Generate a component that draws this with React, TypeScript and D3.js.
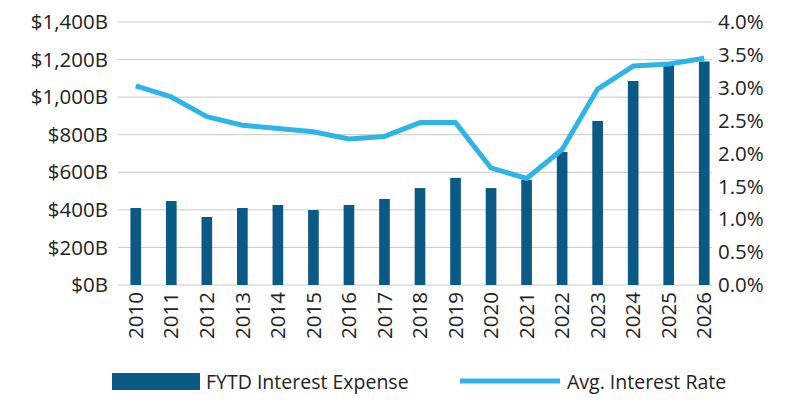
import { scaleBand, scaleLinear, line } from "d3";

const years = ["2010","2011","2012","2013","2014","2015","2016","2017","2018","2019","2020","2021","2022","2023","2024","2025","2026"];
const expense = [410, 447, 362, 410, 426, 399, 426, 458, 516, 570, 516, 559, 708, 873, 1086, 1187, 1190];
const rate = [3.03, 2.86, 2.56, 2.43, 2.38, 2.33, 2.22, 2.26, 2.47, 2.47, 1.78, 1.62, 2.06, 2.98, 3.33, 3.36, 3.45];
const leftTicks = [0, 200, 400, 600, 800, 1000, 1200, 1400];
const rightTicks = [0, 0.5, 1, 1.5, 2, 2.5, 3, 3.5, 4];

const BAR = "#0b5a85";
const LINE = "#2fb4e6";
const FONT = "'Open Sans', sans-serif";

export default function App() {
  const width = 800, height = 402;
  const x = scaleBand().domain(years).range([118, 722]).paddingInner(0.7).paddingOuter(0.35);
  const yL = scaleLinear().domain([0, 1400]).range([285, 22]);
  const yR = scaleLinear().domain([0, 4]).range([285, 22]);
  const path = line<number>()
    .x((_, i) => (x(years[i]) ?? 0) + x.bandwidth() / 2)
    .y(d => yR(d))(rate);

  return (
    <svg width={width} height={height} style={{ position: "absolute", left: 0, top: 0, fontFamily: FONT }}>
      <rect width={width} height={height} fill="white" />
      {leftTicks.map(t => (
        <g key={t}>
          <line x1={118} x2={712} y1={yL(t)} y2={yL(t)} stroke="#c8c8c8" strokeWidth={1} />
          <text x={108} y={yL(t)} dy="0.35em" textAnchor="end" fontSize={20.5} fill="#222">
            ${t.toLocaleString("en-US")}B
          </text>
        </g>
      ))}
      {rightTicks.map(t => (
        <text key={t} x={718} y={yR(t)} dy="0.35em" fontSize={20.5} fill="#222">
          {t.toFixed(1)}%
        </text>
      ))}
      {expense.map((v, i) => (
        <rect key={years[i]} x={x(years[i])} y={yL(v)} width={x.bandwidth()} height={yL(0) - yL(v)} fill={BAR} />
      ))}
      <path d={path ?? ""} fill="none" stroke={LINE} strokeWidth={5} strokeLinejoin="round" />
      {years.map(yr => (
        <text key={yr} transform={`translate(${(x(yr) ?? 0) + x.bandwidth() / 2},292) rotate(-90)`}
          dy="0.35em" textAnchor="end" fontSize={20.5} fill="#222">{yr}</text>
      ))}
      <rect x={112} y={373} width={88} height={17} fill={BAR} />
      <text x={206} y={382} dy="0.35em" fontSize={19.5} fill="#222">FYTD Interest Expense</text>
      <line x1={460} x2={560} y1={381} y2={381} stroke={LINE} strokeWidth={5} />
      <text x={567} y={382} dy="0.35em" fontSize={19.5} fill="#222">Avg. Interest Rate</text>
    </svg>
  );
}
